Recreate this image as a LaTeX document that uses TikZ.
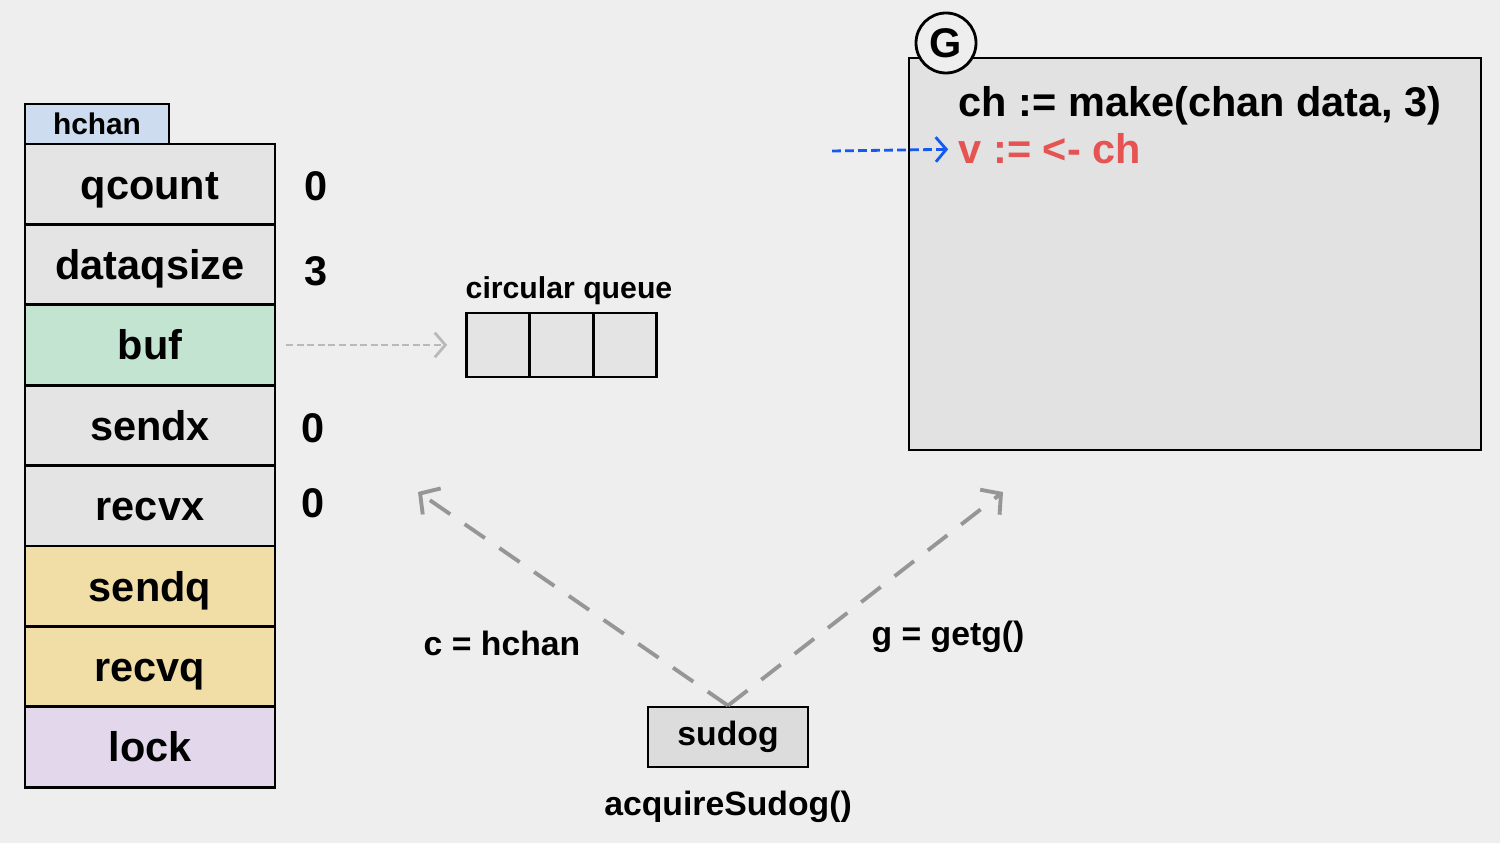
\documentclass[tikz,border=0pt]{standalone}
\usepackage{fontspec}
\setmainfont{Liberation Sans}
\usetikzlibrary{arrows.meta}
\definecolor{bggray}{RGB}{238,238,238}
\definecolor{fieldgray}{RGB}{228,228,228}
\definecolor{tabblue}{RGB}{205,220,238}
\definecolor{bufgreen}{RGB}{196,228,210}
\definecolor{waitqyellow}{RGB}{241,222,166}
\definecolor{lockpurple}{RGB}{226,215,235}
\definecolor{gboxgray}{RGB}{226,226,226}
\definecolor{sudoggray}{RGB}{220,220,220}
\definecolor{recvred}{RGB}{229,83,83}
\definecolor{ptrblue}{RGB}{20,90,240}
\definecolor{lightarrow}{RGB}{185,185,185}
\definecolor{darkarrow}{RGB}{150,150,150}

\tikzset{
  bigtext/.style={font=\fontsize{11.8}{14}\selectfont\bfseries},
  smalltext/.style={font=\fontsize{9.6}{12}\selectfont\bfseries},
  field/.style={draw, line width=0.8pt, minimum width=2.5cm, minimum height=0.804cm,
                inner sep=0pt, text height=1.8ex, text depth=0.2ex, bigtext},
  fieldval/.style={bigtext, text height=1.8ex, text depth=0.2ex},
  qcell/.style={draw, line width=0.8pt, fill=fieldgray, minimum width=0.637cm,
                minimum height=0.64cm, inner sep=0pt},
  ptrarrow/.style={dash pattern=on 7pt off 5pt, line width=1.1pt, darkarrow,
                   -{Straight Barb[length=4pt,width=9pt,line width=1.1pt]}},
}

\begin{document}
\begin{tikzpicture}[x=0.1mm,y=-0.1mm]
        \useasboundingbox (0,0) rectangle (1500,843);
        \fill[bggray] (0,0) rectangle (1500,843);

        % hchan struct
        \node[draw, line width=0.8pt, fill=tabblue, minimum width=1.44cm, minimum height=0.4cm,
              inner sep=0pt, font=\fontsize{8.5}{10}\selectfont\bfseries] (tab) at (97,124) {hchan};
        \node[field, fill=fieldgray] (qcount) at (150,184.2) {qcount};
        \node[field, fill=fieldgray] (dataqsize) at (150,264.6) {dataqsize};
        \node[field, fill=bufgreen] (buf) at (150,345) {buf};
        \node[field, fill=fieldgray] (sendx) at (150,425.4) {sendx};
        \node[field, fill=fieldgray] (recvx) at (150,505.8) {recvx};
        \node[field, fill=waitqyellow] (sendq) at (150,586.2) {sendq};
        \node[field, fill=waitqyellow] (recvq) at (150,666.6) {recvq};
        \node[field, fill=lockpurple] (lock) at (150,747) {lock};

        \node[fieldval] (qcountval) at (316,186) {0};
        \node[fieldval] (dataqsizeval) at (316,271) {3};
        \node[fieldval] (sendxval) at (313,428) {0};
        \node[fieldval] (recvxval) at (313,503) {0};

        % circular queue
        \node[qcell] (q1) at (498,345) {};
        \node[qcell] (q2) at (561.5,345) {};
        \node[qcell] (q3) at (625,345) {};
        \node[font=\fontsize{8.6}{10}\selectfont\bfseries] (qlabel) at (569,291) {circular queue};
        \draw[lightarrow, line width=0.8pt, dash pattern=on 2pt off 1pt,
              -{Straight Barb[length=3pt,width=7pt,line width=0.8pt]},
              shorten <=2.8pt, shorten >=5pt] (buf) -- (q1);

        % goroutine
        \node[draw, line width=0.8pt, fill=gboxgray, minimum width=5.72cm,
              minimum height=3.92cm, inner sep=0pt] (gbox) at (1195,254) {};
        \node[circle, draw, line width=0.8pt, fill=bggray, minimum size=0.6cm,
              inner sep=0pt, bigtext] (gmark) at (946,43) {G};
        \node[bigtext, anchor=base west, inner sep=0pt] (makeline) at (958,117) {ch := make(chan data, 3)};
        \node[bigtext, anchor=base west, inner sep=0pt, text=recvred] (vline) at (958,164) {v := <- ch};
        \coordinate (pc) at (832,151);
        \draw[ptrblue, line width=0.8pt, dash pattern=on 2.5pt off 1.2pt,
              -{Straight Barb[length=3pt,width=7pt,line width=0.8pt]},
              shorten >=2.8pt] (pc) -- (vline.west);

        % sudog
        \node[draw, line width=0.8pt, fill=sudoggray, minimum width=1.6cm,
              minimum height=0.6cm, inner sep=0pt, smalltext] (sudog) at (728,737) {sudog};
        \node[smalltext] (acquire) at (728,807) {acquireSudog()};
        \coordinate (chanptr) at (418,492);
        \coordinate (gptr) at (1003,492);
        \draw[ptrarrow] (sudog.north) -- (chanptr);
        \draw[ptrarrow] (sudog.north) -- (gptr);
        \node[smalltext] (clabel) at (502,643) {c = hchan};
        \node[smalltext] (glabel) at (948,637) {g = getg()};
\end{tikzpicture}
\end{document}
